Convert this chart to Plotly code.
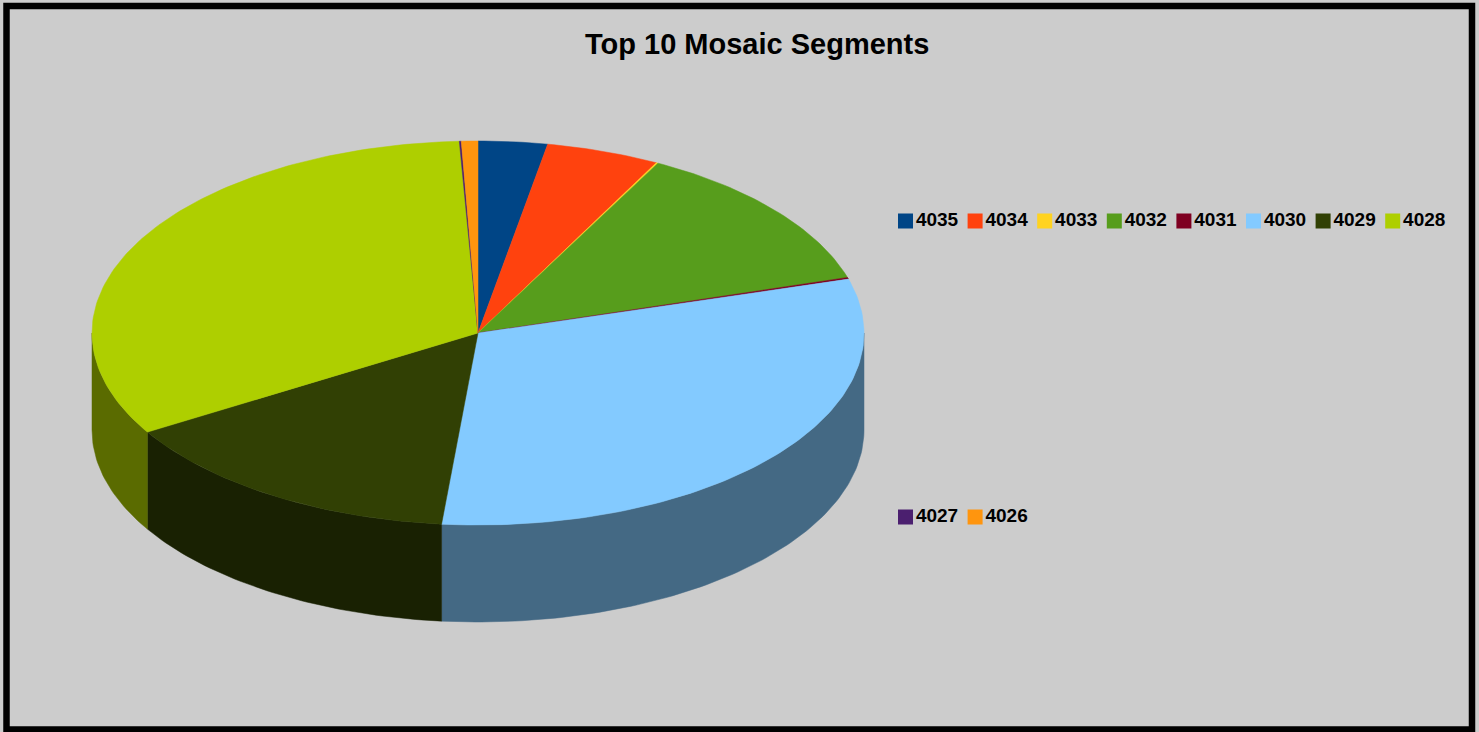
import numpy as np
import plotly.graph_objects as go

# ---- data ----
segments = ["4035", "4034", "4033", "4032", "4031", "4030", "4029", "4028", "4027", "4026"]
shares = [2.89, 4.75, 0.08, 12.61, 0.14, 31.03, 14.86, 32.86, 0.08, 0.69]
colors = ["#004586", "#FF420E", "#FFD320", "#579D1C", "#7E0021",
          "#83CAFF", "#314004", "#AECF00", "#4B1F6F", "#FF950E"]
title_text = "Top 10 Mosaic Segments"

# ---- layout constants (pixel space) ----
W, H = 1479, 732
CX, CY, RX, RY, DEPTH = 478, 333, 386, 192, 97


def darker(hexcol, f=0.52):
    h = hexcol.lstrip("#")
    r, g, b = (int(h[i:i + 2], 16) for i in (0, 2, 4))
    return "#%02x%02x%02x" % (int(r * f), int(g * f), int(b * f))


def arc(a0, a1, dy=0.0):
    n = max(2, int(abs(a1 - a0)) + 2)
    t = np.radians(np.linspace(a0, a1, n))
    return CX + RX * np.sin(t), CY - RY * np.cos(t) + dy


total = float(sum(shares))
ends = np.cumsum(shares) / total * 360.0
starts = np.concatenate([[0.0], ends[:-1]])

fig = go.Figure()

# side walls (front half, 90..270 deg clockwise from top)
for s, e, c in zip(starts, ends, colors):
    a, b = max(s, 90.0), min(e, 270.0)
    if a < b:
        xt, yt = arc(a, b)
        xb, yb = arc(b, a, DEPTH)
        xs = np.concatenate([xt, xb, xt[:1]])
        ys = np.concatenate([yt, yb, yt[:1]])
        sc = darker(c)
        fig.add_trace(go.Scatter(x=xs, y=ys, mode="lines", fill="toself",
                                 fillcolor=sc, line=dict(color=sc, width=0.5),
                                 hoverinfo="skip", showlegend=False))

# top slices
for name, s, e, c in zip(segments, starts, ends, colors):
    xa, ya = arc(s, e)
    xs = np.concatenate([[CX], xa, [CX]])
    ys = np.concatenate([[CY], ya, [CY]])
    fig.add_trace(go.Scatter(x=xs, y=ys, mode="lines", fill="toself",
                             fillcolor=c, line=dict(color=c, width=0.5),
                             name=name, hoverinfo="name", showlegend=False))

# legend (two rows, as in the original)
LX0, LSTEP, ROW_Y = 898, 69.6, [221, 517]
row_len = 8
lx, ly = [], []
for i in range(len(segments)):
    r, k = divmod(i, row_len)
    lx.append(LX0 + k * LSTEP + 7.5)
    ly.append(ROW_Y[r])
fig.add_trace(go.Scatter(
    x=lx, y=ly, mode="markers+text", text=segments, textposition="middle right",
    marker=dict(symbol="square", size=15, color=colors, line=dict(width=0)),
    textfont=dict(family="Liberation Sans, Arial, sans-serif", size=19,
                  color="black", weight="bold"),
    hoverinfo="skip", showlegend=False))

fig.add_annotation(x=757, y=44, xref="x", yref="y", text=title_text,
                   showarrow=False, xanchor="center", yanchor="middle",
                   font=dict(family="Liberation Sans, Arial, sans-serif",
                             size=29, color="black", weight="bold"))

fig.add_shape(type="rect", xref="x", yref="y", x0=6.5, y0=6, x1=1472, y1=729.5,
              line=dict(color="black", width=6.5), fillcolor="rgba(0,0,0,0)",
              layer="above")

fig.update_layout(
    width=W, height=H, margin=dict(l=0, r=0, t=0, b=0),
    paper_bgcolor="#cccccc", plot_bgcolor="#cccccc", showlegend=False,
    xaxis=dict(range=[0, W], visible=False, fixedrange=True),
    yaxis=dict(range=[H, 0], visible=False, fixedrange=True),
)

fig.write_html("out.html")
